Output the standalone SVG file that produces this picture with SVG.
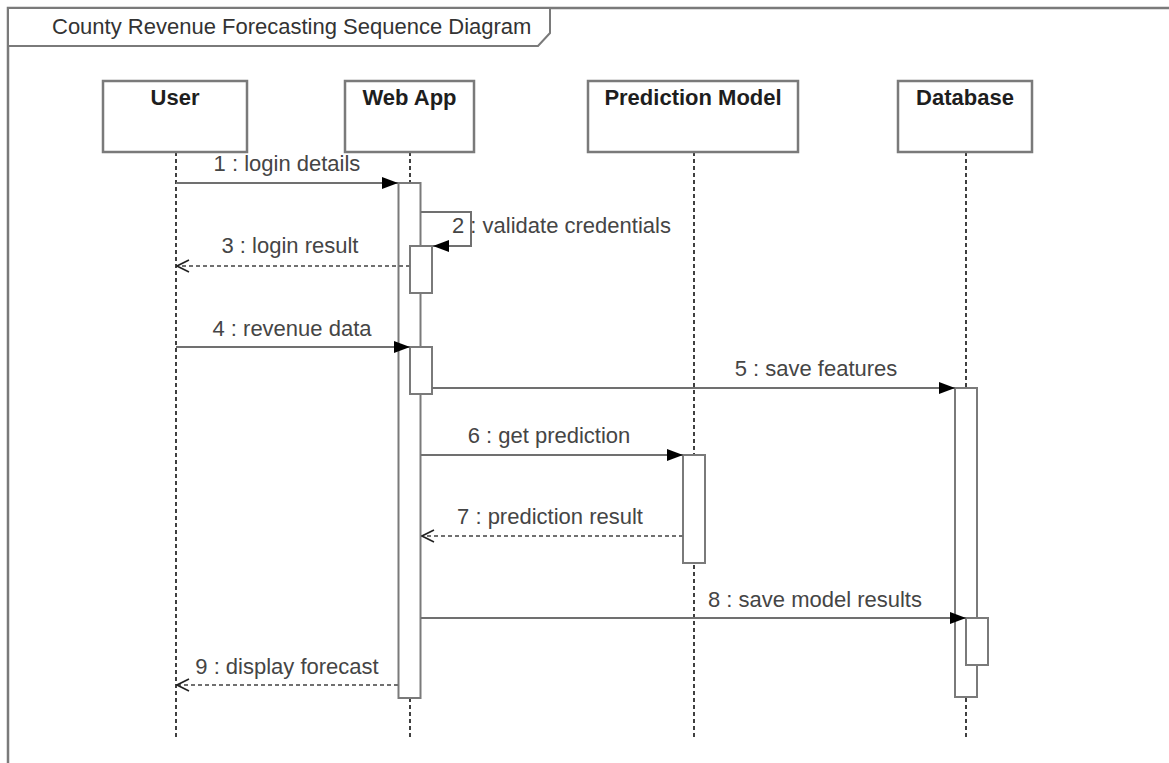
<svg xmlns="http://www.w3.org/2000/svg" width="1169" height="763" viewBox="0 0 1169 763">
  <style>
    .frame { fill: none; stroke: #7a7a7a; stroke-width: 2.5; }
    .tab { fill: #ffffff; stroke: #7a7a7a; stroke-width: 2; }
    .title { font-family: "Liberation Sans", Arial, sans-serif; font-size: 22px; fill: #333333; }
    .head { fill: #ffffff; stroke: #7a7a7a; stroke-width: 2.5; }
    .headtext { font-family: "Liberation Sans", Arial, sans-serif; font-size: 22px; font-weight: bold; fill: #1e1e1e; text-anchor: middle; }
    .life { stroke: #111111; stroke-width: 1.6; stroke-dasharray: 4 3; fill: none; }
    .act { fill: #ffffff; stroke: #7a7a7a; stroke-width: 2; }
    .msg { fill: none; stroke: #707070; stroke-width: 2; }
    .ret { fill: none; stroke: #707070; stroke-width: 2; stroke-dasharray: 4 3; }
    .label { font-family: "Liberation Sans", Arial, sans-serif; font-size: 22px; fill: #454545; text-anchor: middle; }
  </style>
  <defs>
    <marker id="filled" viewBox="0 0 16 12" refX="16" refY="6" markerWidth="16" markerHeight="12" markerUnits="userSpaceOnUse" orient="auto">
      <path d="M0,0 L16,6 L0,12 z" fill="#000000"/>
    </marker>
    <marker id="open" viewBox="-1 -1 14 14" refX="12" refY="6" markerWidth="14" markerHeight="14" markerUnits="userSpaceOnUse" orient="auto">
      <path d="M0,0 L12,6 L0,12" fill="none" stroke="#222222" stroke-width="1.6"/>
    </marker>
  </defs>

  <rect width="1169" height="763" fill="#ffffff"/>

  <!-- sequence frame with its name tab -->
  <g id="frame">
    <path class="frame" d="M8,763 V8 H1169"/>
    <path class="tab" d="M8,8 H550 V33 L538,46 H8 Z"/>
    <text class="title" x="52" y="34">County Revenue Forecasting Sequence Diagram</text>
  </g>

  <!-- lifelines -->
  <g id="lifelines">
    <line class="life" x1="176" y1="152" x2="176" y2="738"/>
    <line class="life" x1="410" y1="152" x2="410" y2="738"/>
    <line class="life" x1="694" y1="152" x2="694" y2="738"/>
    <line class="life" x1="966" y1="152" x2="966" y2="738"/>
  </g>

  <g id="user">
    <rect class="head" x="103" y="81" width="144" height="71"/>
    <text class="headtext" x="175" y="105">User</text>
  </g>

  <g id="webapp">
    <rect class="head" x="345" y="81" width="129" height="71"/>
    <text class="headtext" x="409.5" y="105">Web App</text>
    <rect class="act" x="398.5" y="183" width="22" height="515"/>
    <rect class="act" x="410" y="246" width="22" height="47"/>
    <rect class="act" x="410" y="347" width="22" height="47"/>
  </g>

  <g id="prediction-model">
    <rect class="head" x="588" y="81" width="210" height="71"/>
    <text class="headtext" x="693" y="105">Prediction Model</text>
    <rect class="act" x="683" y="455" width="22" height="108"/>
  </g>

  <g id="database">
    <rect class="head" x="898" y="81" width="134" height="71"/>
    <text class="headtext" x="965" y="105">Database</text>
    <rect class="act" x="955" y="388" width="22" height="309"/>
    <rect class="act" x="966" y="618" width="22" height="47"/>
  </g>

  <!-- messages -->
  <g id="connectors">
    <line class="msg" x1="176" y1="183" x2="398" y2="183" marker-end="url(#filled)"/>
    <text class="label" x="287" y="171">1 : login details</text>

    <path class="msg" d="M421,212 H471 V246 H433" marker-end="url(#filled)"/>
    <text class="label" x="452" y="233" style="text-anchor:start">2 : validate credentials</text>

    <line class="ret" x1="410" y1="266" x2="177" y2="266" marker-end="url(#open)"/>
    <text class="label" x="290" y="253">3 : login result</text>

    <line class="msg" x1="176" y1="347" x2="410" y2="347" marker-end="url(#filled)"/>
    <text class="label" x="292" y="336">4 : revenue data</text>

    <line class="msg" x1="432" y1="388" x2="955" y2="388" marker-end="url(#filled)"/>
    <text class="label" x="816" y="376">5 : save features</text>

    <line class="msg" x1="421" y1="455" x2="683" y2="455" marker-end="url(#filled)"/>
    <text class="label" x="549" y="443">6 : get prediction</text>

    <line class="ret" x1="683" y1="536" x2="422" y2="536" marker-end="url(#open)"/>
    <text class="label" x="550" y="524">7 : prediction result</text>

    <line class="msg" x1="421" y1="618" x2="966" y2="618" marker-end="url(#filled)"/>
    <text class="label" x="815" y="607">8 : save model results</text>

    <line class="ret" x1="398" y1="685" x2="177" y2="685" marker-end="url(#open)"/>
    <text class="label" x="287" y="674">9 : display forecast</text>
  </g>
</svg>
